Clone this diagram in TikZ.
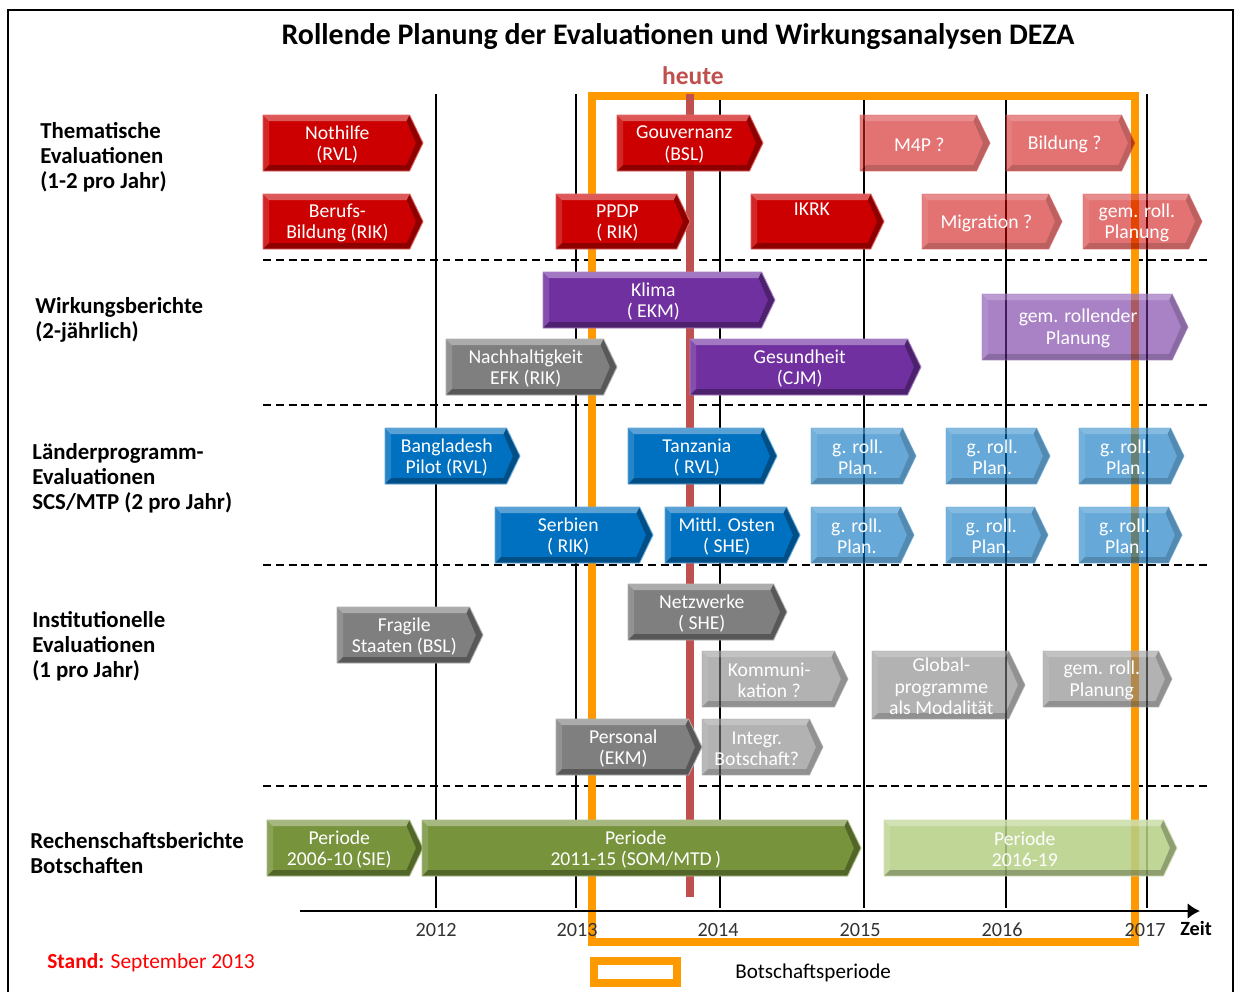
\documentclass[tikz,border=0pt]{standalone}
\usepackage{fontspec}
\setmainfont{Carlito}
\usetikzlibrary{arrows.meta}
\definecolor{bred}{HTML}{CC0000}
\definecolor{bpurple}{HTML}{7030A0}
\definecolor{bblue}{HTML}{0070C0}
\definecolor{bgray}{HTML}{7F7F7F}
\definecolor{bgreen}{HTML}{77933C}
\definecolor{lgreen}{HTML}{B5CF85}
\definecolor{borange}{HTML}{FF9900}
\definecolor{heutered}{HTML}{C0504D}
\definecolor{yeargray}{HTML}{333333}
\newcommand\evbox[8]{%
  \pgfmathsetmacro\tp{0.24*(#5-#3)}%
  \pgfmathsetmacro\ym{(#3+#5)/2}%
  \pgfmathsetmacro\xb{#4-\tp}%
  \pgfmathsetmacro\xc{(#2+\xb)/2}%
  \pgfmathsetmacro\oa{#7*0.35}%
  \pgfmathsetmacro\ob{#7*0.15}%
  \pgfmathsetmacro\oc{#7*0.3}%
  \fill[#6,fill opacity=#7] (#2,#3) -- (\xb,#3) -- (#4,\ym) -- (\xb,#5) -- (#2,#5) -- cycle;
  \fill[white,fill opacity=\oa] (#2,#3) -- (\xb,#3) -- (\xb-3,#3+6) -- (#2+6,#3+6) -- cycle;
  \fill[white,fill opacity=\ob] (#2,#3) -- (#2+6,#3+6) -- (#2+6,#5-6) -- (#2,#5) -- cycle;
  \fill[black,fill opacity=\oc] (#2,#5) -- (\xb,#5) -- (\xb-3,#5-6) -- (#2+6,#5-6) -- cycle;
  \fill[black,fill opacity=\oc] (\xb,#3) -- (#4,\ym) -- (\xb,#5) -- (\xb-3,#5-6) -- (#4-7,\ym) -- (\xb-3,#3+6) -- cycle;
  \draw[#6!60!white,draw opacity=#7,line width=0.5pt] (#2,#3) -- (\xb,#3) -- (#4,\ym) -- (\xb,#5) -- (#2,#5) -- cycle;
  \node[boxtext] (#1) at (\xc+1,\ym+1.5) {#8};
}
\begin{document}
\begin{tikzpicture}[x=0.02cm,y=-0.02cm,
  boxtext/.style={text=white,align=center,inner sep=0pt,font=\fontsize{11.2}{12.2}\selectfont},
  rowlabel/.style={anchor=west,align=left,inner sep=0pt,font=\bfseries\fontsize{13}{14.2}\selectfont},
  yearlabel/.style={text=yeargray,inner sep=0pt,font=\fontsize{11.5}{13}\selectfont},
  yearline/.style={black,line width=0.8pt},
  sepline/.style={black,line width=0.9pt,dash pattern=on 4.5pt off 2.8pt},
  frameline/.style={black,line width=1.3pt}]
\useasboundingbox (0,0) rectangle (1235,992);
\fill[white] (0,0) rectangle (1235,992);
% outer frame
\draw[frameline] (8,992) -- (8,10) -- (1233,10) -- (1233,992);
% title
\node[inner sep=0pt,font=\bfseries\fontsize{17}{20}\selectfont] (title) at (678,37) {Rollende Planung der Evaluationen und Wirkungsanalysen DEZA};
% year lines
\foreach \x in {436,576,720,864,1006,1147} \draw[yearline] (\x,94) -- (\x,908);
% separators
\foreach \y in {260,405,565,786} \draw[sepline] (263,\y) -- (1210,\y);
% Botschaftsperiode frame
\draw[borange,line width=4.6pt] (592,96) rectangle (1135,942);
% heute
\draw[heutered,line width=4.8pt] (690,94) -- (690,897);
\node[text=heutered,inner sep=0pt,font=\bfseries\fontsize{14.5}{16}\selectfont] (heute) at (693,76) {heute};
% row labels
\node[rowlabel] (lthem) at (40,157) {Thematische\\Evaluationen\\(1-2 pro Jahr)};
\node[rowlabel] (lwirk) at (35,320) {Wirkungsberichte\\(2-jährlich)};
\node[rowlabel] (lland) at (32,478) {Länderprogramm-\\Evaluationen\\SCS/MTP (2 pro Jahr)};
\node[rowlabel] (linst) at (32,646) {Institutionelle\\Evaluationen\\(1 pro Jahr)};
\node[rowlabel] (lrech) at (30,853) {Rechenschaftsberichte\\Botschaften};
% Thematische
\evbox{nothilfe}{263}{115}{423}{171}{bred}{1}{Nothilfe\\(RVL)}
\evbox{gouv}{617}{115}{763}{171}{bred}{1}{Gouvernanz\\(BSL)}
\evbox{mfourp}{860}{115}{990}{171}{bred}{0.55}{M4P ?}
\evbox{bildung}{1006}{115}{1135}{171}{bred}{0.55}{Bildung ?}
\evbox{berufs}{263}{194}{423}{249}{bred}{1}{Berufs-\\Bildung (RIK)}
\evbox{ppdp}{556}{194}{690}{249}{bred}{1}{PPDP\\( RIK)}
\evbox{ikrk}{751}{194}{884}{249}{bred}{1}{IKRK\\\strut}
\evbox{migration}{922}{194}{1062}{249}{bred}{0.55}{Migration ?}
\evbox{gemrollT}{1083}{194}{1202}{249}{bred}{0.55}{gem. roll.\\Planung}
% Wirkungsberichte
\evbox{klima}{543}{272}{775}{328}{bpurple}{1}{Klima\\( EKM)}
\evbox{gemrollW}{982}{294}{1188}{360}{bpurple}{0.6}{gem. rollender\\Planung}
\evbox{nachhalt}{446}{339}{617}{395}{bgray}{1}{Nachhaltigkeit\\EFK (RIK)}
\evbox{gesund}{690}{339}{921}{395}{bpurple}{1}{Gesundheit\\(CJM)}
% Laenderprogramme
\evbox{bangla}{385}{428}{520}{484}{bblue}{1}{Bangladesh\\Pilot (RVL)}
\evbox{tanzania}{628}{428}{777}{484}{bblue}{1}{Tanzania\\( RVL)}
\evbox{groA}{811}{428}{916}{484}{bblue}{0.6}{g. roll.\\Plan.}
\evbox{groB}{946}{428}{1050}{484}{bblue}{0.6}{g. roll.\\Plan.}
\evbox{groC}{1079}{428}{1184}{484}{bblue}{0.6}{g. roll.\\Plan.}
\evbox{serbien}{495}{507}{653}{563}{bblue}{1}{Serbien\\( RIK)}
\evbox{mittl}{665}{507}{800}{563}{bblue}{1}{Mittl. Osten\\( SHE)}
\evbox{groD}{811}{507}{914}{563}{bblue}{0.6}{g. roll.\\Plan.}
\evbox{groE}{946}{507}{1048}{563}{bblue}{0.6}{g. roll.\\Plan.}
\evbox{groF}{1079}{507}{1182}{563}{bblue}{0.6}{g. roll.\\Plan.}
% Institutionelle
\evbox{fragile}{337}{607}{483}{663}{bgray}{1}{Fragile\\Staaten (BSL)}
\evbox{netzwerke}{628}{584}{787}{640}{bgray}{1}{Netzwerke\\( SHE)}
\evbox{kommuni}{702}{651}{848}{707}{bgray}{0.6}{Kommuni-\\kation ?}
\evbox{global}{872}{651}{1025}{719}{bgray}{0.6}{Global-\\programme\\als Modalität}
\evbox{gemrollI}{1043}{651}{1172}{707}{bgray}{0.6}{gem. roll.\\Planung}
\evbox{personal}{556}{719}{702}{775}{bgray}{1}{Personal\\(EKM)}
\evbox{integr}{702}{719}{823}{775}{bgray}{0.6}{Integr.\\Botschaft?}
% Rechenschaftsberichte
\evbox{pera}{267}{820}{423}{876}{bgreen}{1}{Periode\\2006-10\,(SIE)}
\evbox{perb}{422}{820}{861}{876}{bgreen}{1}{Periode\\2011-15 (SOM/MTD\,)}
\evbox{perc}{884}{820}{1177}{876}{lgreen}{0.85}{Periode\\2016-19}
% time axis
\coordinate (axs) at (300,911);
\coordinate (axe) at (1200,911);
\draw[black,line width=1.5pt,-{Latex[length=7pt,width=9pt]}] (axs) -- (axe);
\node[yearlabel] (ya) at (436,930) {2012};
\node[yearlabel] (yb) at (577,930) {2013};
\node[yearlabel] (yc) at (718,930) {2014};
\node[yearlabel] (yd) at (860,930) {2015};
\node[yearlabel] (ye) at (1002,930) {2016};
\node[yearlabel] (yf) at (1145,930) {2017};
\node[inner sep=0pt,font=\bfseries\fontsize{11.5}{13}\selectfont] (zeit) at (1196,928) {Zeit};
% footer
\node[anchor=west,inner sep=0pt,text=red,font=\fontsize{12.2}{14}\selectfont] (stand) at (47,963) {\textbf{Stand:} September 2013};
\draw[borange,line width=4.6pt] (594,961) rectangle (677,983);
\node[anchor=west,inner sep=0pt,font=\fontsize{12}{14}\selectfont] (legend) at (735,973) {Botschaftsperiode};
\end{tikzpicture}
\end{document}
